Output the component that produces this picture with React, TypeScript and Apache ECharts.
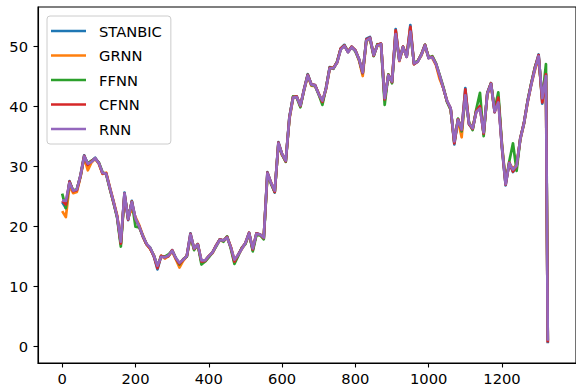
import React, { useEffect, useRef } from "react";
import * as echarts from "echarts";

// x positions (sample index) of the readings
const xs = [
  0, 10, 20, 30, 40, 50, 60, 70, 80, 90,
  100, 110, 120, 130, 140, 150, 160, 170, 180, 190,
  200, 210, 220, 230, 240, 250, 260, 270, 280, 290,
  300, 310, 320, 330, 340, 350, 360, 370, 380, 390,
  400, 410, 420, 430, 440, 450, 460, 470, 480, 490,
  500, 510, 520, 530, 540, 550, 560, 570, 580, 590,
  600, 610, 620, 630, 640, 650, 660, 670, 680, 690,
  700, 710, 720, 730, 740, 750, 760, 770, 780, 790,
  800, 810, 820, 830, 840, 850, 860, 870, 880, 890,
  900, 910, 920, 930, 940, 950, 960, 970, 980, 990,
  1000, 1010, 1020, 1030, 1040, 1050, 1060, 1070, 1080, 1090,
  1100, 1110, 1120, 1130, 1140, 1150, 1160, 1170, 1180, 1190,
  1200, 1210, 1220, 1230, 1240, 1250, 1260, 1270, 1280, 1290,
  1300, 1310, 1320, 1325,
];

const stanbic = [
  24.0, 23.0, 27.5, 25.8, 26.0, 28.5, 31.8, 30.3, 30.8, 31.4,
  30.5, 28.8, 28.8, 26.3, 24.0, 21.5, 17.0, 25.6, 21.0, 24.2,
  21.2, 20.0, 18.3, 17.0, 16.3, 15.0, 12.8, 15.0, 14.8, 15.0,
  16.0, 14.6, 13.6, 14.4, 15.0, 18.8, 16.2, 17.0, 14.0, 14.2,
  15.0, 15.6, 16.8, 17.8, 17.6, 18.2, 16.5, 14.0, 15.2, 16.3,
  17.2, 18.9, 16.0, 18.8, 18.6, 18.0, 29.0, 27.2, 25.6, 34.0,
  32.0, 30.8, 38.2, 41.5, 41.6, 40.0, 42.8, 45.3, 43.6, 43.5,
  42.0, 40.6, 43.0, 46.5, 46.3, 47.3, 49.6, 50.2, 49.0, 49.9,
  49.3, 47.8, 45.4, 51.2, 51.5, 48.4, 50.2, 50.4, 41.0, 45.2,
  44.0, 52.8, 47.6, 49.9, 48.2, 53.5, 47.0, 47.4, 48.6, 50.2,
  48.0, 48.2, 47.0, 45.0, 43.0, 40.8, 39.6, 33.6, 37.8, 36.0,
  43.0, 37.0, 36.2, 39.3, 40.0, 35.4, 42.2, 43.8, 39.0, 41.5,
  33.0, 26.8, 30.6, 29.0, 30.0, 34.6, 37.2, 40.8, 43.8, 46.4,
  48.6, 40.4, 45.4, 0.5,
];

const grnn = [
  22.5, 21.5, 26.8, 25.5, 25.7, 28.2, 31.4, 29.3, 30.6, 31.2,
  30.4, 28.7, 28.9, 26.5, 24.2, 21.8, 17.3, 25.0, 21.5, 22.9,
  21.5, 20.2, 18.5, 17.0, 16.2, 15.2, 13.2, 15.1, 14.6, 15.0,
  15.8, 14.5, 13.1, 14.2, 15.0, 18.2, 16.2, 16.8, 14.2, 14.3,
  15.0, 15.5, 16.7, 17.6, 17.5, 18.1, 16.6, 14.3, 15.1, 16.2,
  17.1, 18.7, 16.2, 18.6, 18.5, 18.2, 28.4, 27.3, 25.8, 33.6,
  31.8, 31.0, 37.8, 41.3, 41.5, 40.1, 42.6, 45.0, 43.4, 43.3,
  42.1, 40.7, 42.8, 46.2, 46.4, 47.2, 49.5, 50.0, 49.1, 49.8,
  49.2, 47.6, 45.0, 50.8, 51.2, 48.6, 50.0, 50.3, 41.4, 45.0,
  44.2, 52.5, 47.5, 49.7, 48.3, 53.0, 47.0, 47.5, 48.4, 50.0,
  48.1, 48.0, 46.8, 44.5, 43.0, 40.9, 39.4, 34.0, 37.6, 34.8,
  42.2, 37.2, 36.4, 39.2, 39.8, 35.5, 41.9, 43.5, 39.2, 41.0,
  33.6, 27.4, 30.4, 29.6, 30.2, 34.4, 37.0, 40.6, 43.6, 46.0,
  48.0, 41.0, 44.0, 0.8,
];

const ffnn = [
  25.4, 23.0, 27.3, 25.9, 26.2, 28.3, 31.5, 30.5, 30.9, 31.2,
  30.6, 29.0, 28.6, 26.2, 23.9, 21.4, 16.6, 25.2, 21.3, 24.1,
  19.9, 19.8, 18.4, 17.0, 16.4, 15.1, 13.3, 15.0, 14.9, 15.3,
  15.9, 14.7, 13.6, 14.5, 14.9, 18.3, 16.0, 17.0, 13.6, 14.1,
  14.8, 15.6, 16.6, 17.8, 17.4, 18.3, 16.3, 13.7, 15.0, 16.4,
  17.0, 18.8, 15.8, 18.5, 18.5, 17.8, 28.6, 27.0, 25.7, 33.7,
  31.9, 30.7, 38.0, 41.6, 41.4, 39.8, 42.7, 45.2, 43.5, 43.4,
  41.9, 40.2, 43.1, 46.4, 46.2, 47.4, 49.5, 50.1, 49.1, 49.8,
  49.1, 47.7, 45.5, 51.0, 51.1, 48.3, 50.3, 50.2, 40.2, 45.3,
  43.8, 51.9, 47.7, 49.8, 48.4, 52.2, 47.2, 47.5, 48.6, 50.2,
  48.1, 48.3, 47.1, 45.2, 43.2, 40.7, 39.4, 34.0, 37.9, 35.8,
  41.5, 37.3, 36.0, 39.5, 42.2, 35.0, 42.1, 43.8, 39.4, 42.3,
  33.5, 27.2, 30.8, 33.8, 29.2, 34.6, 37.1, 40.9, 43.8, 46.5,
  48.2, 41.2, 47.0, 1.0,
];

const cfnn = [
  24.2, 23.6, 27.4, 25.8, 26.0, 28.4, 31.7, 30.2, 30.8, 31.3,
  30.5, 28.8, 28.8, 26.3, 24.0, 21.6, 17.1, 25.4, 21.1, 24.1,
  21.2, 20.0, 18.3, 17.0, 16.3, 15.0, 13.0, 15.0, 14.8, 15.0,
  16.0, 14.6, 13.7, 14.4, 15.0, 18.7, 16.2, 17.0, 14.1, 14.2,
  15.0, 15.6, 16.8, 17.8, 17.6, 18.2, 16.5, 14.1, 15.2, 16.3,
  17.2, 18.9, 16.1, 18.8, 18.6, 18.0, 28.9, 27.2, 25.7, 33.9,
  32.0, 30.8, 38.1, 41.5, 41.6, 40.0, 42.8, 45.2, 43.6, 43.5,
  42.0, 40.7, 43.0, 46.4, 46.3, 47.3, 49.6, 50.1, 49.0, 49.9,
  49.3, 47.8, 45.5, 51.1, 51.4, 48.4, 50.2, 50.4, 41.1, 45.2,
  44.0, 52.6, 47.6, 49.9, 48.2, 53.2, 47.0, 47.4, 48.6, 50.2,
  48.0, 48.2, 47.0, 45.0, 43.0, 40.8, 39.6, 33.8, 37.8, 36.0,
  42.8, 37.0, 36.2, 39.2, 40.0, 35.4, 42.1, 43.8, 39.0, 41.4,
  33.1, 26.9, 30.6, 29.1, 30.0, 34.6, 37.2, 40.8, 43.7, 46.4,
  48.5, 40.6, 45.3, 0.6,
];

const rnn = [
  24.3, 24.2, 27.2, 25.9, 26.1, 28.4, 31.6, 30.4, 30.7, 31.3,
  30.5, 28.9, 28.7, 26.4, 24.1, 21.6, 17.4, 25.4, 21.2, 24.0,
  21.3, 20.0, 18.4, 17.1, 16.4, 15.1, 13.4, 14.9, 14.8, 15.1,
  15.9, 14.7, 13.9, 14.4, 15.0, 18.6, 16.3, 16.9, 14.3, 14.3,
  15.0, 15.6, 16.7, 17.7, 17.6, 18.1, 16.5, 14.4, 15.2, 16.2,
  17.2, 18.8, 16.3, 18.7, 18.6, 18.1, 28.8, 27.2, 25.9, 33.8,
  32.0, 30.9, 38.0, 41.4, 41.5, 40.1, 42.7, 45.1, 43.6, 43.4,
  42.0, 40.9, 42.9, 46.3, 46.3, 47.2, 49.4, 50.0, 49.0, 49.8,
  49.2, 47.8, 45.6, 50.9, 51.3, 48.5, 50.1, 50.3, 41.3, 45.1,
  44.1, 52.0, 47.6, 49.8, 48.2, 52.4, 47.1, 47.4, 48.5, 50.1,
  48.0, 48.1, 47.0, 45.1, 43.0, 40.9, 39.6, 34.1, 37.7, 36.1,
  41.8, 37.1, 36.3, 39.0, 39.6, 35.6, 42.0, 43.7, 39.1, 40.6,
  33.3, 27.0, 30.5, 29.4, 30.1, 34.5, 37.1, 40.7, 43.6, 46.2,
  48.3, 41.3, 45.0, 0.9,
];

const seriesNames = ["STANBIC", "GRNN", "FFNN", "CFNN", "RNN"];
const seriesColors = ["#1f77b4", "#ff7f0e", "#2ca02c", "#d62728", "#9467bd"];
const xTicks = [0, 200, 400, 600, 800, 1000, 1200];
const yTicks = [0, 10, 20, 30, 40, 50];

const FONT = "DejaVu Sans";

export default function App() {
  const ref = useRef<HTMLDivElement>(null);

  useEffect(() => {
    if (!ref.current) return;
    const chart = echarts.init(ref.current, null, { renderer: "svg" });
    const allValues = [stanbic, grnn, ffnn, cfnn, rnn];

    chart.setOption({
      animation: false,
      backgroundColor: "#ffffff",
      grid: {
        left: 38,
        top: 7,
        right: -8,
        bottom: 29,
        show: true,
        borderColor: "#000000",
        borderWidth: 1.1,
        backgroundColor: "transparent",
      },
      xAxis: {
        type: "value",
        min: -66,
        max: 1402,
        splitLine: { show: false },
        axisLine: { show: true, onZero: false, lineStyle: { color: "#000", width: 1.1 } },
        axisTick: { show: true, length: 4.5, customValues: xTicks, lineStyle: { color: "#000", width: 1.1 } },
        axisLabel: {
          customValues: xTicks,
          formatter: (v: number) => String(v),
          margin: 8,
          fontFamily: FONT,
          fontSize: 14.7,
          color: "#000",
        },
      },
      yAxis: {
        type: "value",
        min: -2.8,
        max: 56.5,
        splitLine: { show: false },
        axisLine: { show: true, onZero: false, lineStyle: { color: "#000", width: 1.1 } },
        axisTick: { show: true, length: 4.5, customValues: yTicks, lineStyle: { color: "#000", width: 1.1 } },
        axisLabel: {
          customValues: yTicks,
          formatter: (v: number) => String(v),
          margin: 10,
          fontFamily: FONT,
          fontSize: 14.7,
          color: "#000",
        },
      },
      legend: {
        orient: "vertical",
        left: 47,
        top: 16,
        padding: [7, 9, 7, 4],
        itemGap: 8.5,
        itemWidth: 35,
        itemHeight: 2.6,
        icon: "rect",
        backgroundColor: "rgba(255,255,255,0.8)",
        borderColor: "#cccccc",
        borderWidth: 1,
        borderRadius: 3,
        textStyle: {
          fontFamily: FONT,
          fontSize: 14.7,
          color: "#000",
          lineHeight: 16,
          padding: [0, 0, 0, 8],
        },
        data: seriesNames,
      },
      series: seriesNames.map((name, i) => ({
        name,
        type: "line",
        z: 2 + i,
        showSymbol: false,
        symbol: "none",
        color: seriesColors[i],
        itemStyle: { color: seriesColors[i] },
        lineStyle: { color: seriesColors[i], width: 2.7, join: "round" },
        data: xs.map((x, k) => [x, allValues[i][k]]),
      })),
    });

    return () => {
      chart.dispose();
    };
  }, []);

  return (
    <div
      ref={ref}
      style={{ position: "fixed", left: 0, top: 0, width: 576, height: 392 }}
    />
  );
}
